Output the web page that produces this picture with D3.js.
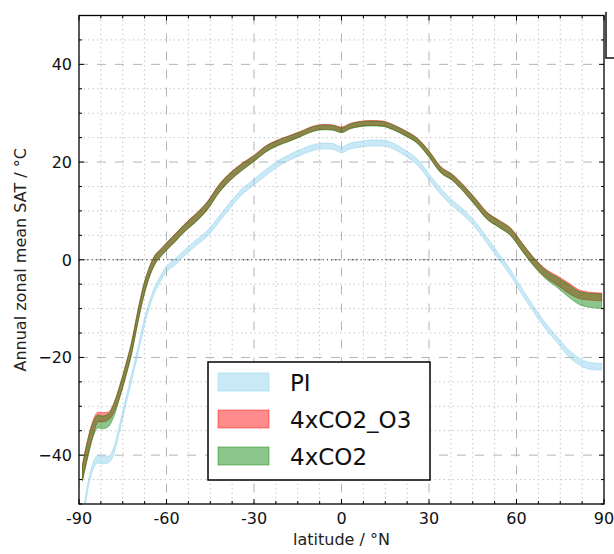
<!DOCTYPE html>
<html>
<head>
<meta charset="utf-8">
<script src="https://cdn.jsdelivr.net/npm/d3@7"></script>
<style>
  body { margin: 0; background: #fff; }
  svg { font-family: "DejaVu Sans", sans-serif; }
</style>
</head>
<body>
<svg id="main-svg" width="614" height="554"></svg>
<script>
// latitudes
const lats = [-88.8, -87, -85, -83.5, -82, -80, -78, -76, -74, -72, -70, -68, -66, -64, -62, -60, -57, -54, -50, -46, -42, -38, -34, -30, -26, -22, -18, -14, -10, -6, -3, 0, 3, 6, 10, 14, 18, 22, 26, 30, 34, 38, 42, 46, 50, 54, 58, 62, 66, 70, 74, 78, 82, 86, 89.2];

// PI band (min / max)
const piLo = [-54.3, -47.2, -42.7, -41.6, -41.8, -41.6, -39.7, -34.9, -29.9, -24.9, -19.9, -14.5, -10.0, -6.7, -4.4, -2.5, -1.0, 0.7, 2.8, 4.8, 7.7, 10.7, 13.4, 15.3, 17.2, 19.0, 20.3, 21.4, 22.3, 22.7, 22.6, 21.9, 22.7, 23.0, 23.3, 23.3, 22.6, 21.2, 19.4, 16.4, 13.4, 11.0, 9.0, 6.5, 3.3, 0.0, -3.3, -7.2, -10.8, -14.2, -17.0, -19.9, -21.7, -22.5, -22.6];
const piHi = [-52.7, -45.8, -41.3, -40.0, -40.2, -40.2, -38.3, -33.5, -28.5, -23.5, -18.5, -13.1, -8.8, -5.5, -3.2, -1.3, 0.2, 1.9, 4.0, 6.0, 8.9, 11.9, 14.6, 16.5, 18.4, 20.2, 21.5, 22.6, 23.5, 23.9, 23.8, 23.1, 23.9, 24.2, 24.5, 24.5, 23.8, 22.4, 20.6, 17.6, 14.6, 12.2, 10.2, 7.7, 4.5, 1.2, -2.1, -6.0, -9.6, -13.0, -15.8, -18.5, -20.3, -21.1, -21.2];

// 4xCO2_O3 band
const o3Lo = [-45.0, -40.2, -35.6, -33.2, -33.2, -32.8, -31.2, -28.0, -23.9, -19.3, -13.3, -7.9, -3.7, -0.9, 0.7, 2.0, 3.8, 5.7, 7.8, 10.3, 13.8, 16.4, 18.4, 20.2, 22.1, 23.4, 24.3, 25.3, 26.3, 26.7, 26.6, 26.1, 26.9, 27.3, 27.5, 27.4, 26.6, 25.4, 23.9, 21.1, 17.9, 16.3, 13.9, 11.1, 8.3, 6.7, 5.0, 1.8, -1.2, -3.6, -5.2, -6.9, -8.0, -8.3, -8.4];
const o3Hi = [-41.8, -36.7, -32.6, -31.2, -31.3, -31.2, -29.3, -25.7, -21.5, -16.9, -10.9, -5.5, -1.7, 0.9, 2.2, 3.5, 5.3, 7.2, 9.4, 11.9, 15.4, 17.9, 19.8, 21.4, 23.3, 24.5, 25.4, 26.3, 27.3, 27.7, 27.6, 27.2, 27.9, 28.3, 28.5, 28.4, 27.6, 26.4, 24.9, 22.3, 19.1, 17.5, 15.2, 12.5, 9.7, 8.1, 6.5, 3.4, 0.4, -1.9, -3.3, -4.8, -6.3, -6.7, -6.8];

// 4xCO2 band
const co2Lo = [-45.3, -40.5, -36.0, -34.4, -34.6, -34.2, -32.0, -28.2, -24.0, -19.4, -13.4, -8.0, -3.8, -1.0, 0.6, 1.9, 3.7, 5.6, 7.7, 10.2, 13.7, 16.3, 18.3, 20.1, 22.0, 23.3, 24.2, 25.2, 26.2, 26.6, 26.5, 26.0, 26.8, 27.2, 27.4, 27.3, 26.5, 25.3, 23.8, 21.0, 17.8, 16.2, 13.8, 11.0, 8.2, 6.6, 4.9, 1.7, -1.4, -3.9, -5.7, -7.7, -9.3, -9.8, -10.0];
const co2Hi = [-42.0, -37.0, -33.0, -31.8, -32.0, -31.6, -29.4, -25.8, -21.6, -17.0, -11.0, -5.6, -1.8, 0.8, 2.1, 3.4, 5.2, 7.1, 9.3, 11.8, 15.3, 17.8, 19.7, 21.3, 23.2, 24.4, 25.3, 26.2, 27.2, 27.6, 27.5, 27.0, 27.8, 28.2, 28.4, 28.3, 27.5, 26.3, 24.8, 22.2, 19.0, 17.4, 15.1, 12.4, 9.6, 8.0, 6.4, 3.3, 0.3, -2.1, -3.6, -5.1, -6.6, -6.9, -7.0];

const seriesNames = ['PI', '4xCO2_O3', '4xCO2'];
const seriesColors = ['#87ceeb', '#ff0000', '#008000'];

const xTicks = [-90, -60, -30, 0, 30, 60, 90];
const xTickLabels = ['-90', '-60', '-30', '0', '30', '60', '90'];
const yTicks = [-40, -20, 0, 20, 40];
const yTickLabels = ['\u221240', '\u221220', '0', '20', '40'];

const bands = [
    { lo: piLo, hi: piHi },
    { lo: o3Lo, hi: o3Hi },
    { lo: co2Lo, hi: co2Hi },
];

const svg = d3.select('#main-svg');
const pLeft = 79, pRight = 604, pTop = 15.5, pBottom = 504;

const x = d3.scaleLinear().domain([-90, 90]).range([pLeft, pRight]);
const y = d3.scaleLinear().domain([-50, 50]).range([pBottom, pTop]);

const xMinor = d3.range(-90, 90.01, 7.5);
const yMinor = d3.range(-50, 50.01, 5);

// grid
const grid = svg.append('g');
grid.selectAll('.vminor')
    .data(xMinor.filter(d => d % 30 !== 0))
    .enter().append('line')
    .attr('x1', d => x(d)).attr('x2', d => x(d))
    .attr('y1', pTop).attr('y2', pBottom)
    .attr('stroke', '#c8c8c8').attr('stroke-dasharray', '1.5,3');
grid.selectAll('.hminor')
    .data(yMinor.filter(d => d % 20 !== 0 && Math.abs(d) < 50))
    .enter().append('line')
    .attr('x1', pLeft).attr('x2', pRight)
    .attr('y1', d => y(d)).attr('y2', d => y(d))
    .attr('stroke', '#c8c8c8').attr('stroke-dasharray', '1.5,3');
grid.selectAll('.vmajor')
    .data(xTicks.slice(1, -1))
    .enter().append('line')
    .attr('x1', d => x(d)).attr('x2', d => x(d))
    .attr('y1', pTop).attr('y2', pBottom)
    .attr('stroke', '#b4b4b4').attr('stroke-dasharray', '9,9');
grid.selectAll('.hmajor')
    .data(yTicks)
    .enter().append('line')
    .attr('x1', pLeft).attr('x2', pRight)
    .attr('y1', d => y(d)).attr('y2', d => y(d))
    .attr('stroke', '#b4b4b4').attr('stroke-dasharray', '9,9');

// zero line
svg.append('line')
    .attr('x1', pLeft).attr('x2', pRight)
    .attr('y1', y(0)).attr('y2', y(0))
    .attr('stroke', '#222').attr('stroke-dasharray', '1.2,3');

// bands
svg.append('clipPath').attr('id', 'clip')
    .append('rect').attr('x', pLeft).attr('y', pTop)
    .attr('width', pRight - pLeft).attr('height', pBottom - pTop);

const area = d3.area()
    .x((d, i) => x(lats[i]))
    .y0(d => y(d[0]))
    .y1(d => y(d[1]))
    .curve(d3.curveMonotoneX);

const plot = svg.append('g').attr('clip-path', 'url(#clip)');
bands.forEach((b, k) => {
    plot.append('path')
        .datum(b.lo.map((v, i) => [v, b.hi[i]]))
        .attr('d', area)
        .attr('fill', seriesColors[k])
        .attr('fill-opacity', 0.45)
        .attr('stroke', seriesColors[k])
        .attr('stroke-opacity', 0.45)
        .attr('stroke-width', 1);
});

// ticks on all four sides, pointing inward
const tk = svg.append('g').attr('stroke', '#000').attr('stroke-width', 1);
xMinor.forEach(d => {
    const len = d % 30 === 0 ? 5 : 3;
    tk.append('line').attr('x1', x(d)).attr('x2', x(d)).attr('y1', pBottom).attr('y2', pBottom - len);
    tk.append('line').attr('x1', x(d)).attr('x2', x(d)).attr('y1', pTop).attr('y2', pTop + len);
});
yMinor.forEach(d => {
    const len = d % 20 === 0 ? 5 : 3;
    tk.append('line').attr('y1', y(d)).attr('y2', y(d)).attr('x1', pLeft).attr('x2', pLeft + len);
    tk.append('line').attr('y1', y(d)).attr('y2', y(d)).attr('x1', pRight).attr('x2', pRight - len);
});

// frame
svg.append('rect')
    .attr('x', pLeft).attr('y', pTop)
    .attr('width', pRight - pLeft).attr('height', pBottom - pTop)
    .attr('fill', 'none').attr('stroke', '#000').attr('stroke-width', 1.3);

// stray corner of the neighbouring panel
svg.append('path')
    .attr('d', 'M606,12V58H614')
    .attr('fill', 'none').attr('stroke', '#111').attr('stroke-width', 1.5);

// tick labels
svg.selectAll('.xlab')
    .data(xTicks)
    .enter().append('text')
    .attr('x', d => x(d)).attr('y', 524)
    .attr('text-anchor', 'middle')
    .attr('font-size', 16).attr('fill', '#111')
    .text((d, i) => xTickLabels[i]);

svg.selectAll('.ylab')
    .data(yTicks)
    .enter().append('text')
    .attr('x', pLeft - 7).attr('y', d => y(d))
    .attr('dy', '0.36em')
    .attr('text-anchor', 'end')
    .attr('font-size', 16).attr('fill', '#111')
    .text((d, i) => yTickLabels[i]);

// axis titles
svg.append('text')
    .attr('x', x(0)).attr('y', 545)
    .attr('text-anchor', 'middle')
    .attr('font-size', 16).attr('fill', '#222')
    .text('latitude / °N');

svg.append('text')
    .attr('transform', `translate(25.5, ${(pTop + pBottom) / 2}) rotate(-90)`)
    .attr('text-anchor', 'middle')
    .attr('font-size', 16).attr('fill', '#222')
    .text('Annual zonal mean SAT / °C');

// legend
const legend = svg.append('g');
legend.append('rect')
    .attr('x', 208).attr('y', 362).attr('width', 222).attr('height', 118)
    .attr('fill', '#fff').attr('stroke', '#000').attr('stroke-width', 1.5);

legend.selectAll('.entry')
    .data(seriesNames)
    .enter().append('g')
    .attr('transform', (d, i) => `translate(218, ${373 + i * 37})`)
    .each(function (d, i) {
        const g = d3.select(this);
        g.append('rect')
            .attr('width', 51).attr('height', 18)
            .attr('fill', seriesColors[i]).attr('fill-opacity', 0.45)
            .attr('stroke', seriesColors[i]).attr('stroke-opacity', 0.45);
        g.append('text')
            .attr('x', 72).attr('y', 18)
            .attr('font-size', 23).attr('fill', '#111')
            .text(d);
    });
</script>
</body>
</html>
